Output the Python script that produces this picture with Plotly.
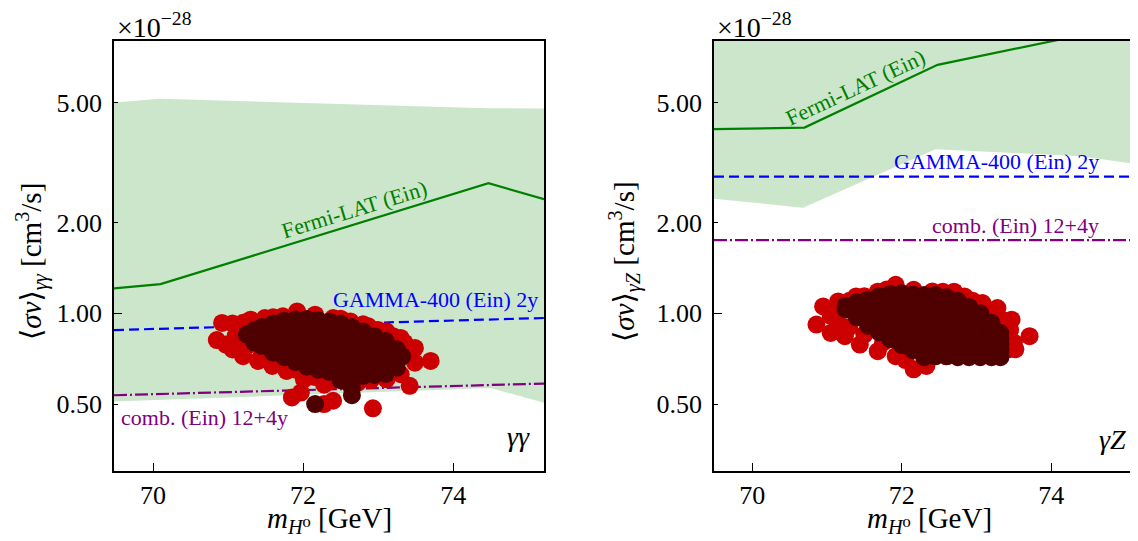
import math
import plotly.graph_objects as go

# ---------------- data (values in units of 1e-28 cm^3/s) ----------------
# gamma-gamma panel
gg_band_hi_x = [69.48, 70.1, 74.2, 74.5, 75.21]
gg_band_hi_y = [5.0, 5.15, 4.81, 4.79, 4.78]
gg_band_lo_x = [69.48, 74.5, 75.21]
gg_band_lo_y = [0.51, 0.565, 0.505]
gg_fermi_x = [69.48, 70.1, 74.47, 75.21]
gg_fermi_y = [1.21, 1.25, 2.70, 2.39]
gg_gamma400_x = [69.48, 75.21]
gg_gamma400_y = [0.88, 0.965]
gg_comb_x = [69.48, 75.21]
gg_comb_y = [0.535, 0.585]

gg_red_x = [70.92, 71.06, 71.30, 71.49, 71.73, 71.92, 72.16, 72.40, 72.63, 72.87,
            73.11, 73.30, 73.49, 73.70,
            70.85, 70.97, 71.06, 71.20, 71.40, 71.59, 71.78, 72.01, 71.97, 71.85,
            72.28, 72.28, 72.40, 72.54, 72.73, 72.93, 73.11, 73.30, 73.42, 73.49,
            71.15, 71.10, 71.25, 71.45, 71.65, 71.90, 72.15, 72.40, 72.90, 73.20,
            73.40, 73.35, 73.20, 73.00, 72.80, 72.50, 71.60, 71.20]
gg_red_y = [0.929, 0.925, 0.953, 0.965, 0.977, 1.015, 0.990, 0.965, 0.940, 0.906,
            0.872, 0.829, 0.768, 0.695,
            0.815, 0.788, 0.759, 0.721, 0.695, 0.669, 0.644, 0.604, 0.546, 0.526,
            0.580, 0.500, 0.513, 0.597, 0.589, 0.484, 0.604, 0.628, 0.575, 0.686,
            0.880, 0.840, 0.780, 0.730, 0.700, 0.650, 0.615, 0.600, 0.600, 0.660,
            0.740, 0.800, 0.840, 0.880, 0.920, 0.960, 0.970, 0.930]

gg_dark_x = [71.25,
             71.35, 71.35, 71.35,
             71.45, 71.45, 71.45, 71.45,
             71.60, 71.60, 71.60, 71.60, 71.60, 71.60,
             71.75, 71.75, 71.75, 71.75, 71.75, 71.75, 71.75,
             71.90, 71.90, 71.90, 71.90, 71.90, 71.90, 71.90, 71.90,
             72.05, 72.05, 72.05, 72.05, 72.05, 72.05, 72.05, 72.05, 72.05,
             72.20, 72.20, 72.20, 72.20, 72.20, 72.20, 72.20, 72.20, 72.20,
             72.35, 72.35, 72.35, 72.35, 72.35, 72.35, 72.35, 72.35, 72.35,
             72.50, 72.50, 72.50, 72.50, 72.50, 72.50, 72.50, 72.50, 72.50, 72.50,
             72.65, 72.65, 72.65, 72.65, 72.65, 72.65, 72.65, 72.65, 72.65, 72.65, 72.65,
             72.80, 72.80, 72.80, 72.80, 72.80, 72.80, 72.80, 72.80,
             72.95, 72.95, 72.95, 72.95, 72.95, 72.95, 72.95,
             73.10, 73.10, 73.10, 73.10, 73.10, 73.10,
             73.25, 73.25, 73.25, 73.25,
             73.32, 72.16]
gg_dark_y = [0.850,
             0.880, 0.840, 0.800,
             0.900, 0.860, 0.820, 0.780,
             0.925, 0.885, 0.845, 0.805, 0.770, 0.740,
             0.945, 0.905, 0.865, 0.825, 0.785, 0.750, 0.715,
             0.955, 0.915, 0.875, 0.835, 0.795, 0.755, 0.720, 0.690,
             0.958, 0.918, 0.878, 0.838, 0.798, 0.758, 0.720, 0.690, 0.665,
             0.950, 0.910, 0.870, 0.830, 0.790, 0.750, 0.715, 0.680, 0.650,
             0.940, 0.900, 0.860, 0.820, 0.780, 0.740, 0.705, 0.670, 0.640,
             0.925, 0.885, 0.845, 0.805, 0.765, 0.725, 0.690, 0.655, 0.625, 0.600,
             0.900, 0.860, 0.820, 0.780, 0.740, 0.700, 0.665, 0.630, 0.600, 0.565, 0.535,
             0.870, 0.830, 0.790, 0.750, 0.710, 0.675, 0.645, 0.620,
             0.840, 0.800, 0.760, 0.720, 0.685, 0.655, 0.625,
             0.810, 0.770, 0.735, 0.700, 0.665, 0.630,
             0.760, 0.725, 0.690, 0.660,
             0.720, 0.500]

# gamma-Z panel
gz_band_lo_x = [69.49, 70.68, 72.45, 74.4, 75.16]
gz_band_lo_y = [2.40, 2.24, 3.50, 3.32, 3.12]
gz_band_hi_x = [69.49, 75.16]
gz_band_hi_y = [20.0, 20.0]
gz_fermi_x = [69.49, 70.7, 72.48, 75.16]
gz_fermi_y = [4.08, 4.13, 6.67, 9.15]
gz_gamma400_x = [69.49, 75.16]
gz_gamma400_y = [2.84, 2.84]
gz_comb_x = [69.49, 75.16]
gz_comb_y = [1.75, 1.75]

gz_red_x = [70.95, 71.15, 71.39, 71.68, 71.92, 72.16, 72.41, 72.70, 72.84, 73.08,
            73.28, 73.47, 73.71, 73.52, 73.42,
            70.86, 71.05, 71.24, 71.44, 71.68, 71.92, 72.16, 72.33, 72.05,
            71.05, 71.15, 71.30, 71.50, 71.75, 72.00, 71.50, 71.80, 72.55, 72.95,
            73.20, 73.35, 73.45, 73.50, 71.10, 71.30]
gz_red_y = [1.054, 1.095, 1.138, 1.180, 1.243, 1.197, 1.182, 1.180, 1.138, 1.082,
            1.041, 0.953, 0.840, 0.760, 0.759,
            0.918, 0.861, 0.840, 0.788, 0.749, 0.721, 0.652, 0.669, 0.700,
            0.980, 0.930, 0.900, 0.850, 0.800, 0.750, 1.140, 1.200, 1.180, 1.100,
            1.020, 0.950, 0.880, 0.800, 1.040, 1.100]

gz_dark_x = [71.25, 71.25,
             71.40, 71.40, 71.40, 71.40,
             71.55, 71.55, 71.55, 71.55, 71.55, 71.55,
             71.70, 71.70, 71.70, 71.70, 71.70, 71.70, 71.70, 71.70,
             71.85, 71.85, 71.85, 71.85, 71.85, 71.85, 71.85, 71.85, 71.85, 71.85,
             72.00, 72.00, 72.00, 72.00, 72.00, 72.00, 72.00, 72.00, 72.00, 72.00, 72.00,
             72.15, 72.15, 72.15, 72.15, 72.15, 72.15, 72.15, 72.15, 72.15, 72.15, 72.15, 72.15,
             72.30, 72.30, 72.30, 72.30, 72.30, 72.30, 72.30, 72.30, 72.30, 72.30, 72.30, 72.30, 72.30,
             72.45, 72.45, 72.45, 72.45, 72.45, 72.45, 72.45, 72.45, 72.45, 72.45, 72.45, 72.45, 72.45,
             72.60, 72.60, 72.60, 72.60, 72.60, 72.60, 72.60, 72.60, 72.60, 72.60, 72.60, 72.60, 72.60,
             72.75, 72.75, 72.75, 72.75, 72.75, 72.75, 72.75, 72.75, 72.75, 72.75, 72.75, 72.75,
             72.90, 72.90, 72.90, 72.90, 72.90, 72.90, 72.90, 72.90, 72.90, 72.90, 72.90,
             73.05, 73.05, 73.05, 73.05, 73.05, 73.05, 73.05, 73.05, 73.05, 73.05,
             73.20, 73.20, 73.20, 73.20, 73.20, 73.20, 73.20, 73.20,
             73.32, 73.32, 73.32, 73.32, 73.32, 73.32]
gz_dark_y = [1.060, 1.030,
             1.090, 1.050, 1.010, 0.970,
             1.110, 1.070, 1.030, 0.990, 0.950, 0.910,
             1.140, 1.100, 1.060, 1.020, 0.980, 0.940, 0.900, 0.865,
             1.160, 1.120, 1.080, 1.040, 1.000, 0.960, 0.920, 0.880, 0.845, 0.820,
             1.165, 1.125, 1.085, 1.045, 1.005, 0.965, 0.925, 0.885, 0.850, 0.815, 0.785,
             1.155, 1.115, 1.075, 1.035, 0.995, 0.955, 0.915, 0.875, 0.840, 0.805, 0.775, 0.755,
             1.150, 1.110, 1.070, 1.030, 0.990, 0.950, 0.910, 0.875, 0.840, 0.805, 0.775, 0.745, 0.715,
             1.150, 1.110, 1.070, 1.030, 0.990, 0.950, 0.910, 0.875, 0.840, 0.805, 0.775, 0.745, 0.720,
             1.130, 1.090, 1.050, 1.010, 0.970, 0.935, 0.900, 0.865, 0.830, 0.800, 0.770, 0.745, 0.720,
             1.100, 1.060, 1.020, 0.980, 0.945, 0.910, 0.875, 0.840, 0.810, 0.780, 0.750, 0.715,
             1.050, 1.010, 0.975, 0.940, 0.905, 0.870, 0.840, 0.810, 0.780, 0.750, 0.715,
             1.000, 0.965, 0.930, 0.895, 0.860, 0.830, 0.800, 0.770, 0.740, 0.715,
             0.930, 0.895, 0.860, 0.830, 0.800, 0.770, 0.740, 0.715,
             0.860, 0.825, 0.790, 0.760, 0.735, 0.715]

x_ticks = [70, 72, 74]
y_ticks = [0.5, 1.0, 2.0, 5.0]
y_ticktext = ["0.50", "1.00", "2.00", "5.00"]
y_range = [0.3, 8.0]
gg_x_range = [69.48, 75.21]
gz_x_range = [69.49, 75.16]

# ---------------- styling ----------------
# the page adds an 8px body margin; figure is sized/placed to compensate
OFF = 8
W, H = 1130, 533
FONT = "Liberation Serif, DejaVu Serif, serif"
BAND = "rgba(0,128,0,0.2)"
GREEN = "#008000"
BLUE = "#0000ff"
PURPLE = "#800080"
RED = "#cc0000"
DARK = "#4f0000"
MS = 18


def px(xp):
    return (xp - OFF) / W


def py(yp):
    return 1 - (yp - OFF) / H


fig = go.Figure()


def band(xhi, yhi, xlo, ylo, xa, ya):
    xs = list(xhi) + list(reversed(xlo))
    ys = list(yhi) + list(reversed(ylo))
    fig.add_trace(go.Scatter(x=xs, y=ys, fill="toself", fillcolor=BAND, mode="none",
                             xaxis=xa, yaxis=ya, hoverinfo="skip"))


def line(x, y, color, dash, xa, ya):
    fig.add_trace(go.Scatter(x=x, y=y, mode="lines",
                             line=dict(color=color, width=2.2, dash=dash),
                             xaxis=xa, yaxis=ya))


def pts(x, y, color, xa, ya):
    fig.add_trace(go.Scatter(x=x, y=y, mode="markers",
                             marker=dict(color=color, size=MS, line=dict(width=0)),
                             xaxis=xa, yaxis=ya))


DASH = "10px,5px"
DASHDOT = "13px,3px,2px,3px"

# panel 1
band(gg_band_hi_x, gg_band_hi_y, gg_band_lo_x, gg_band_lo_y, "x", "y")
line(gg_fermi_x, gg_fermi_y, GREEN, "solid", "x", "y")
line(gg_gamma400_x, gg_gamma400_y, BLUE, DASH, "x", "y")
line(gg_comb_x, gg_comb_y, PURPLE, DASHDOT, "x", "y")
pts(gg_red_x, gg_red_y, RED, "x", "y")
pts(gg_dark_x, gg_dark_y, DARK, "x", "y")

# panel 2
band(gz_band_hi_x, gz_band_hi_y, gz_band_lo_x, gz_band_lo_y, "x2", "y2")
line(gz_fermi_x, gz_fermi_y, GREEN, "solid", "x2", "y2")
line(gz_gamma400_x, gz_gamma400_y, BLUE, DASH, "x2", "y2")
line(gz_comb_x, gz_comb_y, PURPLE, DASHDOT, "x2", "y2")
pts(gz_red_x, gz_red_y, RED, "x2", "y2")
pts(gz_dark_x, gz_dark_y, DARK, "x2", "y2")

ydom = [py(471), py(41)]
TICKSZ = 26
common_x = dict(showgrid=False, zeroline=False, showline=True, linecolor="black", linewidth=1.8,
                ticks="inside", ticklen=8, tickwidth=1.4, tickcolor="black",
                tickvals=x_ticks, tickfont=dict(family=FONT, size=TICKSZ, color="black"),
                automargin=False)
common_y = dict(type="log", range=[math.log10(y_range[0]), math.log10(y_range[1])],
                showgrid=False, zeroline=False, showline=True, linecolor="black", linewidth=1.8,
                ticks="inside", ticklen=4.5, tickwidth=1.4, tickcolor="black",
                tickvals=y_ticks, ticktext=y_ticktext, ticklabelstandoff=5,
                minor=dict(tickmode="array", tickvals=[1.0], ticks="inside", ticklen=8,
                           tickwidth=1.4, tickcolor="black", showgrid=False),
                tickfont=dict(family=FONT, size=TICKSZ, color="black"), domain=ydom,
                automargin=False)

fig.update_layout(
    width=W, height=H, margin=dict(l=0, r=0, t=0, b=0),
    paper_bgcolor="white", plot_bgcolor="white", showlegend=False,
    xaxis=dict(common_x, domain=[px(114), px(544)], range=gg_x_range, anchor="y", mirror=True),
    yaxis=dict(common_y, anchor="x", mirror=True),
    xaxis2=dict(common_x, domain=[px(714), 1.0], range=gz_x_range, anchor="y2", mirror=True),
    yaxis2=dict(common_y, anchor="x2", mirror=False),
)

ann = []


def txt(text, x, y, xref, yref, size, color="black", xanchor="center", yanchor="middle", angle=0):
    ann.append(dict(text=text, x=x, y=y, xref=xref, yref=yref, showarrow=False,
                    font=dict(family=FONT, size=size, color=color), xanchor=xanchor,
                    yanchor=yanchor, textangle=angle))


LAB = 22
# panel 1 labels
txt("Fermi-LAT (Ein)", 72.68, 0.345, "x", "y", LAB, GREEN, angle=-17)
txt("GAMMA-400 (Ein) 2y", 75.15, 0.047, "x", "y", LAB, BLUE, xanchor="right")
txt("comb. (Ein) 12+4y", 69.55, -0.347, "x", "y", LAB, PURPLE, xanchor="left")
txt("<i>γγ</i>", 75.05, -0.41, "x", "y", 28, xanchor="right")
# panel 2 labels
txt("Fermi-LAT (Ein)", 71.38, 0.75, "x2", "y2", LAB, GREEN, angle=-25)
txt("GAMMA-400 (Ein) 2y", 74.66, 0.503, "x2", "y2", LAB, BLUE, xanchor="right")
txt("comb. (Ein) 12+4y", 74.66, 0.29, "x2", "y2", LAB, PURPLE, xanchor="right")
txt("<i>γZ</i>", 75.03, -0.42, "x2", "y2", 28, xanchor="right")

# offset texts
txt("×10<sup>−28</sup>", px(115), py(25), "paper", "paper", 28, xanchor="left")
txt("×10<sup>−28</sup>", px(715), py(25), "paper", "paper", 28, xanchor="left")

# axis titles
TITSZ = 29
txt("⟨<i>σv</i>⟩<sub><i>γγ</i></sub> [cm<sup>3</sup>/s]", px(31), py(262), "paper", "paper", TITSZ, angle=-90)
txt("⟨<i>σv</i>⟩<sub><i>γZ</i></sub> [cm<sup>3</sup>/s]", px(624), py(262), "paper", "paper", TITSZ, angle=-90)
txt("<i>m</i><sub><i>H</i>⁰</sub> [GeV]", px(329), py(520), "paper", "paper", TITSZ)
txt("<i>m</i><sub><i>H</i>⁰</sub> [GeV]", px(929), py(520), "paper", "paper", TITSZ)

fig.update_layout(annotations=ann)
fig.write_html("out.html")
